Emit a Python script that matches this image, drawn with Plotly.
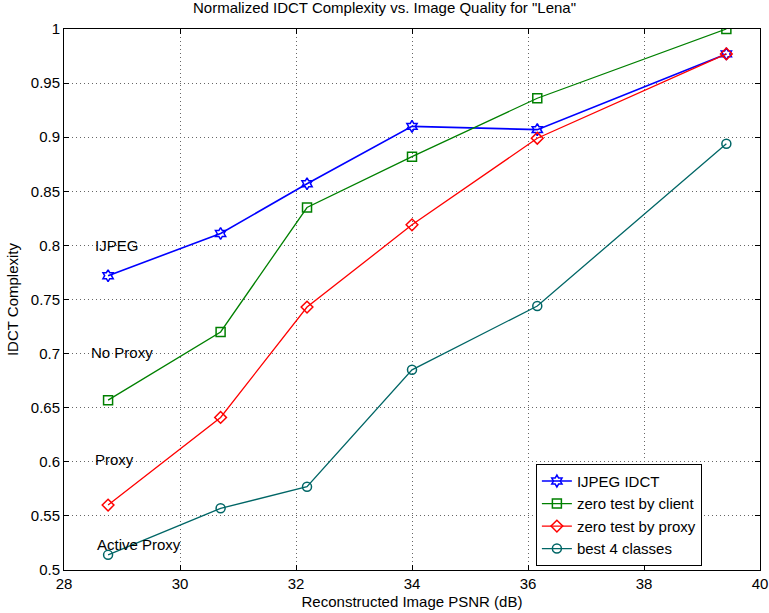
import plotly.graph_objects as go

psnr = [28.76, 30.70, 32.19, 34.0, 36.16, 39.42]
ijpeg = [0.772, 0.811, 0.857, 0.910, 0.907, 0.977]
client = [0.657, 0.720, 0.835, 0.882, 0.936, 1.0]
proxy = [0.560, 0.641, 0.743, 0.819, 0.899, 0.977]
best4 = [0.514, 0.557, 0.577, 0.685, 0.744, 0.894]

names = ["IJPEG IDCT", "zero test by client", "zero test by proxy", "best 4 classes"]
series = [ijpeg, client, proxy, best4]
colors = ["#0000ff", "#008000", "#ff0000", "#006666"]
symbols = ["hexagram-open", "square-open", "diamond-open", "circle-open"]
widths = [1.6, 1.3, 1.3, 1.3]

ann_text = ["IJPEG", "No Proxy", "Proxy", "Active Proxy"]
ann_x = [28.54, 28.47, 28.54, 28.57]
ann_y = [0.7995, 0.701, 0.6017, 0.524]

yticks = [0.5, 0.55, 0.6, 0.65, 0.7, 0.75, 0.8, 0.85, 0.9, 0.95, 1.0]
yticktext = ["0.5", "0.55", "0.6", "0.65", "0.7", "0.75", "0.8", "0.85", "0.9", "0.95", "1"]
xticks = [28, 30, 32, 34, 36, 38, 40]

fig = go.Figure()
for n, s, c, m, w in zip(names, series, colors, symbols, widths):
    fig.add_trace(go.Scatter(x=psnr, y=s, name=n, mode="lines+markers",
                             line=dict(color=c, width=w),
                             marker=dict(symbol=m, size=9, color=c, line=dict(color=c, width=1.5))))

for t, x, y in zip(ann_text, ann_x, ann_y):
    fig.add_annotation(x=x, y=y, text=t, showarrow=False, xanchor="left", yanchor="middle",
                       font=dict(size=15, color="black"), xshift=-2)

font_family = "Liberation Sans, Arial, sans-serif"
axis_common = dict(showline=True, linecolor="black", linewidth=1, mirror="ticks",
                   ticks="inside", ticklen=5, tickcolor="black", automargin=False,
                   showgrid=True, gridcolor="#666666", griddash="1px,3px", gridwidth=1,
                   zeroline=False, tickfont=dict(size=15, color="black"))

fig.update_layout(
    width=769, height=613,
    margin=dict(l=64, r=9, t=29, b=43),
    paper_bgcolor="white", plot_bgcolor="white",
    font=dict(family=font_family, size=15, color="black"),
    title=dict(text='Normalized IDCT Complexity vs. Image Quality for "Lena"',
               x=0.5, xanchor="center", y=0.996, yanchor="top", font=dict(size=15)),
    xaxis=dict(range=[28, 40], tickvals=xticks,
               title=dict(text="Reconstructed Image PSNR (dB)", standoff=5, font=dict(size=15)), **axis_common),
    yaxis=dict(range=[0.5, 1.0], tickvals=yticks, ticktext=yticktext,
               title=dict(text="IDCT Complexity", standoff=8, font=dict(size=15)), **axis_common),
    legend=dict(x=0.678, y=0.102, xanchor="left", yanchor="middle", bgcolor="white",
                bordercolor="black", borderwidth=1, font=dict(size=15), tracegroupgap=0,
                itemwidth=30),
    showlegend=True,
)

fig.write_html("out.html", config={"displayModeBar": False},
               post_script="document.body.style.margin='0px';document.body.style.overflow='hidden';")
